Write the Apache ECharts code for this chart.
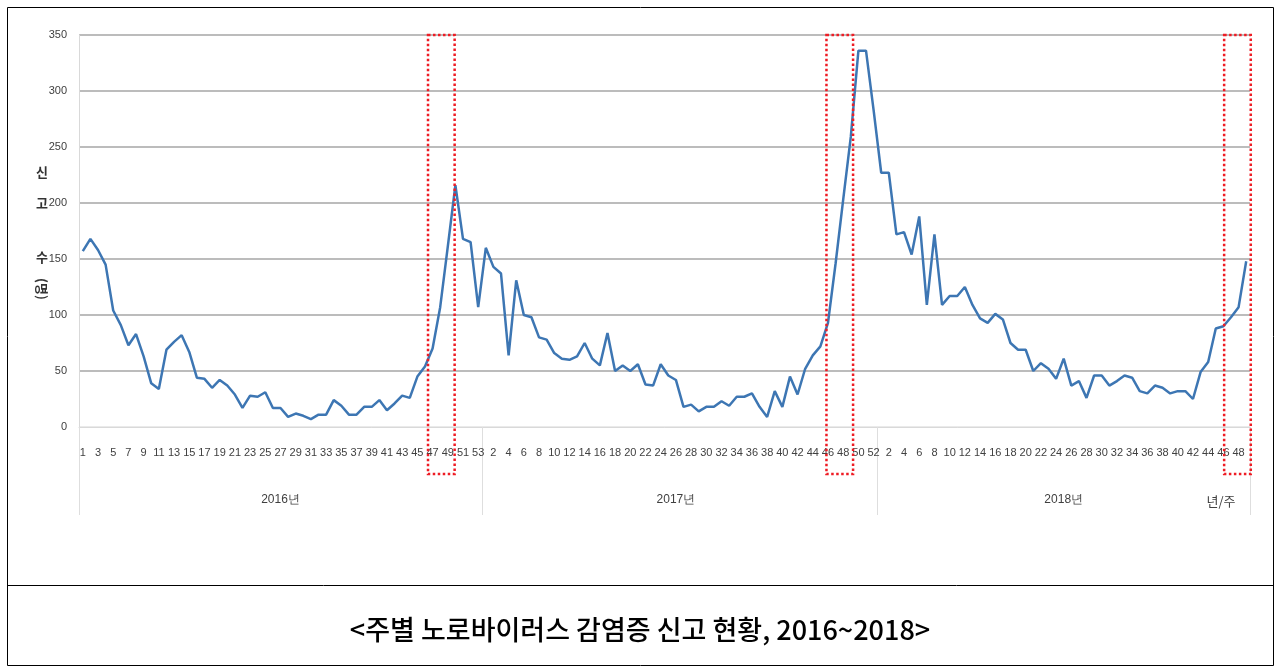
<!DOCTYPE html>
<html>
<head>
<meta charset="utf-8">
<script src="https://cdn.jsdelivr.net/npm/echarts@6/dist/echarts.min.js"></script>
<style>
  html, body { margin: 0; padding: 0; background: #fff; }
  #main { width: 1279px; height: 670px; }
</style>
</head>
<body>
<div id="main"></div>
<script>
// 연도별 주간 노로바이러스 신고 수
const years = ['2016', '2017', '2018']
const cases2016 = [157, 168, 158, 145, 104, 91, 73, 83, 63, 39, 34, 69, 76, 82, 67, 44, 43, 35, 42, 37,
  29, 17, 28, 27, 31, 17, 17, 9, 12, 10, 7, 11, 11, 24, 19, 11, 11, 18, 18, 24,
  15, 21, 28, 26, 45, 54, 70, 107, 161, 216, 168, 165, 107]
const cases2017 = [160, 143, 137, 64, 131, 100, 98, 80, 78, 66, 61, 60, 63, 75, 61, 55, 84, 50, 55, 50,
  56, 38, 37, 56, 46, 42, 18, 20, 14, 18, 18, 23, 19, 27, 27, 30, 18, 9, 32, 18,
  45, 29, 52, 64, 72, 93, 146, 203, 259, 336, 336, 283]
const cases2018 = [227, 227, 172, 174, 154, 188, 109, 172, 109, 117, 117, 125, 109, 97, 93, 101, 96, 75, 69, 69,
  50, 57, 52, 43, 61, 37, 41, 26, 46, 46, 37, 41, 46, 44, 32, 30, 37, 35, 30, 32,
  32, 25, 49, 58, 88, 90, 98, 107, 148]
const yTicks = [0, 50, 100, 150, 200, 250, 300, 350]
// 빨간 점선 박스 (카테고리 인덱스 기준 시작/끝)
const boxes = [[45.4, 48.9], [97.8, 101.3], [150.1, 153.6]]

const perYear = [cases2016, cases2017, cases2018]
let categories = []
let values = []
let yearMid = {}
perYear.forEach((arr, k) => {
  const start = categories.length
  arr.forEach((v, i) => {
    categories.push(years[k] + '-' + (i + 1))
    values.push(v)
  })
  yearMid[start + Math.floor((arr.length - 1) / 2)] = years[k] + '년'
})

const narrow = "'Liberation Sans', Arial, sans-serif"
const kr = "'Noto Sans CJK KR', sans-serif"

var myChart = echarts.init(document.getElementById('main'))
let option = {
  animation: false,
  grid: { left: 79, right: 29, top: 35, bottom: 243 },
  xAxis: [
    {
      type: 'category',
      data: categories,
      boundaryGap: true,
      axisLine: { show: true, lineStyle: { color: '#d9d9d9' } },
      axisTick: { show: false },
      axisLabel: {
        interval: 1,
        margin: 20,
        fontSize: 11,
        fontFamily: narrow,
        color: '#404040',
        formatter: v => v.split('-')[1]
      }
    },
    {
      type: 'category',
      data: categories,
      position: 'bottom',
      boundaryGap: true,
      axisLine: { show: false },
      axisTick: {
        show: true,
        length: 88,
        interval: (idx, v) => v.split('-')[1] === '1',
        lineStyle: { color: '#dedede' }
      },
      axisLabel: {
        interval: idx => yearMid[idx] !== undefined,
        margin: 67,
        fontSize: 12,
        fontFamily: narrow,
        color: '#404040',
        formatter: (v, idx) => yearMid[idx] || ''
      }
    }
  ],
  yAxis: {
    type: 'value',
    min: 0,
    max: 350,
    interval: 50,
    axisLine: { show: true, lineStyle: { color: '#d9d9d9' } },
    axisTick: { show: false },
    axisLabel: {
      margin: 12,
      fontSize: 11,
      fontFamily: narrow,
      color: '#404040',
      formatter: v => yTicks.includes(v) ? String(v) : ''
    },
    splitLine: {
      lineStyle: {
        color: ['#e3e3e3', '#a6a6a6', '#a6a6a6', '#a6a6a6', '#a6a6a6', '#a6a6a6', '#a6a6a6', '#a6a6a6'],
        width: 1.5
      }
    }
  },
  series: [
    {
      type: 'line',
      data: values,
      showSymbol: false,
      symbol: 'none',
      lineStyle: { color: '#3d76b3', width: 2.5 },
      z: 3
    }
  ],
  graphic: [
    // 바깥 테두리와 캡션 구분선
    { type: 'rect', shape: { x: 7.5, y: 7.5, width: 1266, height: 658 }, style: { fill: 'none', stroke: '#000', lineWidth: 1 }, silent: true },
    { type: 'line', shape: { x1: 7, y1: 585.5, x2: 1273, y2: 585.5 }, style: { stroke: '#000', lineWidth: 1 }, silent: true },
    { type: 'text', x: 640, y: 630, style: { text: '<주별 노로바이러스 감염증 신고 현황, 2016~2018>', fontFamily: kr, fontSize: 27, fontWeight: 500, fill: '#000', align: 'center', verticalAlign: 'middle' } },
    // y축 이름
    { type: 'text', x: 42, y: 172, style: { text: '신', fontFamily: kr, fontSize: 13, fontWeight: 'bold', fill: '#333', align: 'center', verticalAlign: 'middle' } },
    { type: 'text', x: 42, y: 203, style: { text: '고', fontFamily: kr, fontSize: 13, fontWeight: 'bold', fill: '#333', align: 'center', verticalAlign: 'middle' } },
    { type: 'text', x: 42, y: 257, style: { text: '수', fontFamily: kr, fontSize: 13, fontWeight: 'bold', fill: '#333', align: 'center', verticalAlign: 'middle' } },
    { type: 'text', x: 42, y: 289, rotation: -Math.PI / 2, style: { text: '(명)', fontFamily: kr, fontSize: 13, fontWeight: 'bold', fill: '#333', align: 'center', verticalAlign: 'middle' } },
    // x축 이름
    { type: 'text', x: 1221, y: 501, style: { text: '년/주', fontFamily: kr, fontSize: 13, fill: '#404040', align: 'center', verticalAlign: 'middle' } }
  ]
}
myChart.setOption(option)

// 점선 박스는 축 좌표로 위치 계산
const x0 = myChart.convertToPixel({ xAxisIndex: 0 }, 0)
const step = myChart.convertToPixel({ xAxisIndex: 0 }, 1) - x0
const yTop = myChart.convertToPixel({ yAxisIndex: 0 }, 350)
const yBottom = myChart.convertToPixel({ yAxisIndex: 0 }, 0) + 47
let boxGraphics = boxes.map(b => ({
  type: 'rect',
  silent: true,
  z: 10,
  shape: { x: x0 + b[0] * step, y: yTop, width: (b[1] - b[0]) * step, height: yBottom - yTop },
  style: { fill: 'none', stroke: '#ee1c24', lineWidth: 2.5, lineDash: [2.5, 2.5] }
}))
myChart.setOption({ graphic: option.graphic.concat(boxGraphics) })
</script>
</body>
</html>
